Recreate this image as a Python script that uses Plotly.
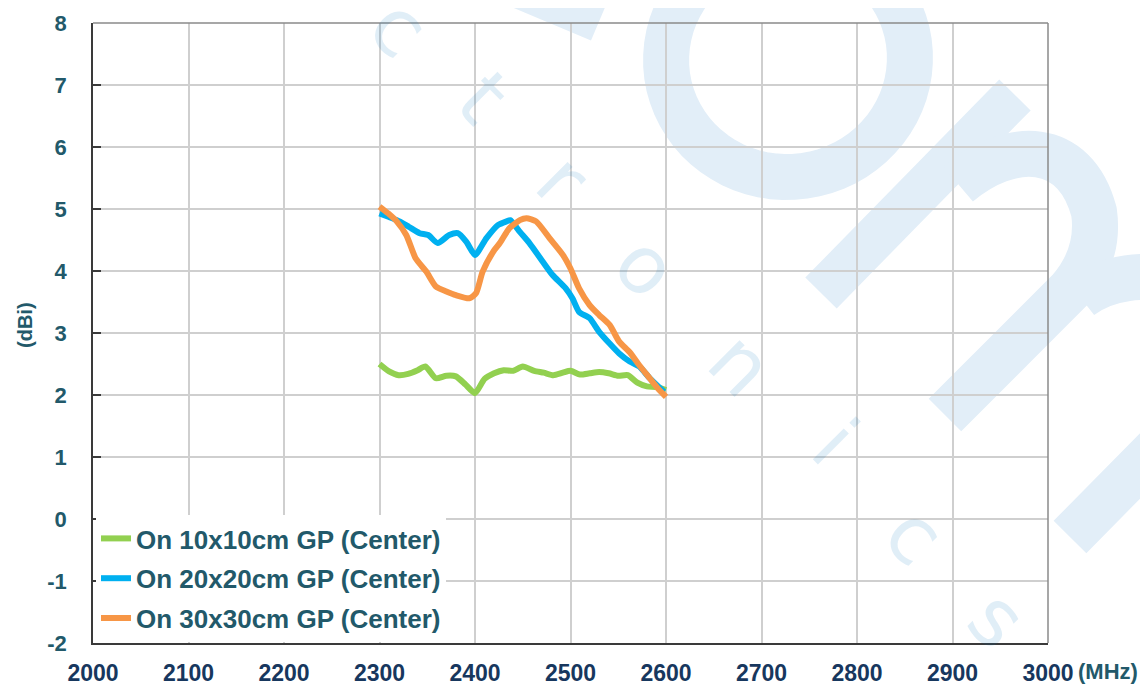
import math
import plotly.graph_objects as go

# ---------------- data ----------------
freq_10 = [2300, 2310, 2320, 2330, 2340, 2348, 2359, 2370, 2380, 2390, 2400, 2410, 2420, 2430,
           2440, 2450, 2462, 2472, 2482, 2492, 2500, 2510, 2520, 2530, 2540, 2550, 2560, 2570,
           2580, 2590, 2600]
gain_10 = [2.50, 2.38, 2.32, 2.34, 2.40, 2.46, 2.27, 2.31, 2.30, 2.17, 2.03, 2.26, 2.35, 2.40,
           2.39, 2.46, 2.39, 2.36, 2.32, 2.36, 2.39, 2.33, 2.35, 2.37, 2.35, 2.31, 2.32, 2.20,
           2.14, 2.13, 2.08]

freq_20 = [2300, 2310, 2321, 2331, 2342, 2351, 2361, 2373, 2382, 2391, 2400, 2412, 2424, 2433,
           2437, 2447, 2457, 2471, 2481, 2495, 2502, 2509, 2520, 2530, 2541, 2551, 2562, 2572,
           2583, 2598]
gain_20 = [4.93, 4.87, 4.80, 4.71, 4.61, 4.58, 4.45, 4.58, 4.61, 4.47, 4.26, 4.53, 4.74, 4.80,
           4.82, 4.63, 4.45, 4.15, 3.94, 3.72, 3.56, 3.34, 3.24, 3.02, 2.83, 2.67, 2.54, 2.46,
           2.27, 2.05]

freq_30 = [2300, 2309, 2318, 2328, 2338, 2349, 2359, 2370, 2380, 2394, 2401, 2408, 2419, 2426,
           2436, 2447, 2454, 2464, 2478, 2492, 2500, 2509, 2520, 2530, 2541, 2551, 2562, 2572,
           2583, 2593, 2600]
gain_30 = [5.04, 4.93, 4.80, 4.58, 4.20, 3.99, 3.75, 3.67, 3.61, 3.56, 3.64, 3.99, 4.31, 4.45,
           4.69, 4.82, 4.85, 4.80, 4.53, 4.26, 4.04, 3.72, 3.45, 3.29, 3.13, 2.86, 2.69, 2.48,
           2.27, 2.08, 1.97]

series_names = ["On 10x10cm GP (Center)", "On 20x20cm GP (Center)", "On 30x30cm GP (Center)"]
series_colors = ["#92d050", "#00b0f0", "#f79646"]

x_ticks = [2000, 2100, 2200, 2300, 2400, 2500, 2600, 2700, 2800, 2900, 3000]
y_ticks = [-2, -1, 0, 1, 2, 3, 4, 5, 6, 7, 8]
y_tick_text = ["-2", "-1", "0", "1", "2", "3", "4", "5", "6", "7", "8"]

# ---------------- figure ----------------
OFF = 8                      # page body margin
W, H = 1148 - OFF, 686 - OFF
ML, MT = 93 - OFF, 23 - OFF
PW, PH = 955, 620
MR, MB = W - ML - PW, H - MT - PH


def PXY(x, y):
    """page pixel -> paper coordinates"""
    fx, fy = x - OFF, y - OFF
    return (fx - ML) / PW, (MT + PH - fy) / PH


def P(x, y):
    a, b = PXY(x, y)
    return f"{a:.4f},{b:.4f}"


fig = go.Figure()
for fx, gy, name, col in zip([freq_10, freq_20, freq_30], [gain_10, gain_20, gain_30],
                             series_names, series_colors):
    fig.add_trace(go.Scatter(x=fx, y=gy, mode="lines", name=name, legendgroup=name,
                             line=dict(color=col, width=6, shape="spline", smoothing=0.6)))

teal = "#22596a"
navy = "#17375e"
FONT = "Liberation Sans, Arial, sans-serif"

# watermark
wm = "#e2eef8"
shapes = []
cx, cy, a, b, th = 788, 59, 122, 118, math.radians(-8)
pts = []
for i in range(73):
    t = 2 * math.pi * i / 72
    x = cx + a * math.cos(t) * math.cos(th) - b * math.sin(t) * math.sin(th)
    y = cy + a * math.cos(t) * math.sin(th) + b * math.sin(t) * math.cos(th)
    pts.append(P(x, y))
shapes.append(dict(path="M" + " L".join(pts) + " Z", w=46))
shapes.append(dict(path=f"M{P(470,-30)} L{P(598,24)}", w=36))
shapes.append(dict(path=f"M{P(821,293)} L{P(1015,95)}", w=44))
shapes.append(dict(path=f"M{P(958,184)} C{P(1010,140)} {P(1075,140)} {P(1094,212)} "
                        f"Q{P(1100,255)} {P(1070,290)} L{P(945,415)}", w=46))
shapes.append(dict(path=f"M{P(1080,297)} C{P(1130,258)} {P(1250,270)} {P(1215,390)} L{P(1070,537)}",
                   w=46))
layout_shapes = []
for s in shapes:
    layout_shapes.append(dict(type="path", xref="paper", yref="paper", path=s["path"],
                              line=dict(color=wm, width=s["w"]),
                              fillcolor="rgba(0,0,0,0)", layer="below"))
layout_shapes.append(dict(type="line", xref="paper", yref="paper", x0=0, x1=1, y0=1, y1=1,
                          line=dict(color="#8a8a8a", width=1.5)))
layout_shapes.append(dict(type="line", xref="paper", yref="paper", x0=1, x1=1, y0=0, y1=1,
                          line=dict(color="#8a8a8a", width=1.5)))

annotations = []
letters = ["c", "t", "r", "o", "n", "i", "c", "s"]
centers = [(399, 28), (483, 97), (562, 180), (646, 266), (741, 364), (835, 442), (915, 535), (998, 619)]
for ch, (lx, ly) in zip(letters, centers):
    ax_, ay_ = PXY(lx, ly)
    annotations.append(dict(text=ch, x=ax_, y=ay_, xref="paper", yref="paper",
                            showarrow=False, textangle=45, xanchor="center", yanchor="middle",
                            font=dict(family="DejaVu Sans, sans-serif", size=80,
                                      color="rgba(0,112,192,0.12)")))

ax_, ay_ = PXY(1076, 671)
annotations.append(dict(text="(MHz)", x=ax_, y=ay_, xref="paper", yref="paper",
                        showarrow=False, xanchor="left", yanchor="middle",
                        font=dict(family=FONT, size=22, color=teal, weight="bold")))
ax_, ay_ = PXY(25, 325)
annotations.append(dict(text="(dBi)", x=ax_, y=ay_, xref="paper", yref="paper",
                        showarrow=False, textangle=-90, xanchor="center", yanchor="middle",
                        font=dict(family=FONT, size=20, color=teal, weight="bold")))

lx_, ly_ = PXY(96, 642)

fig.update_layout(
    width=W, height=H,
    margin=dict(l=ML, r=MR, t=MT, b=MB, autoexpand=False),
    paper_bgcolor="white", plot_bgcolor="white",
    showlegend=True,
    legend=dict(x=lx_, y=ly_, xanchor="left", yanchor="bottom", bgcolor="white",
                borderwidth=0, font=dict(family=FONT, size=26, color=teal, weight="bold"),
                itemwidth=30, tracegroupgap=3, traceorder="grouped"),
    shapes=layout_shapes,
    annotations=annotations,
    xaxis=dict(range=[2000, 3000], tickvals=x_ticks, showgrid=True, gridcolor="#cfcfcf",
               gridwidth=1.5, zeroline=False, showline=True, linecolor="#3a3a3a", linewidth=1.5,
               ticks="", ticklabelstandoff=9, automargin=False,
               tickfont=dict(family=FONT, size=23, color=navy, weight="bold")),
    yaxis=dict(range=[-2, 8], tickvals=y_ticks, ticktext=y_tick_text, showgrid=True,
               gridcolor="#cfcfcf", automargin=False,
               gridwidth=1.5, zeroline=False, showline=True, linecolor="#3a3a3a", linewidth=1.5,
               ticks="inside", ticklen=8, tickcolor="#3a3a3a", tickwidth=1.5,
               ticklabelstandoff=20,
               tickfont=dict(family=FONT, size=22, color=teal, weight="bold")),
)

fig.write_html("out.html")
